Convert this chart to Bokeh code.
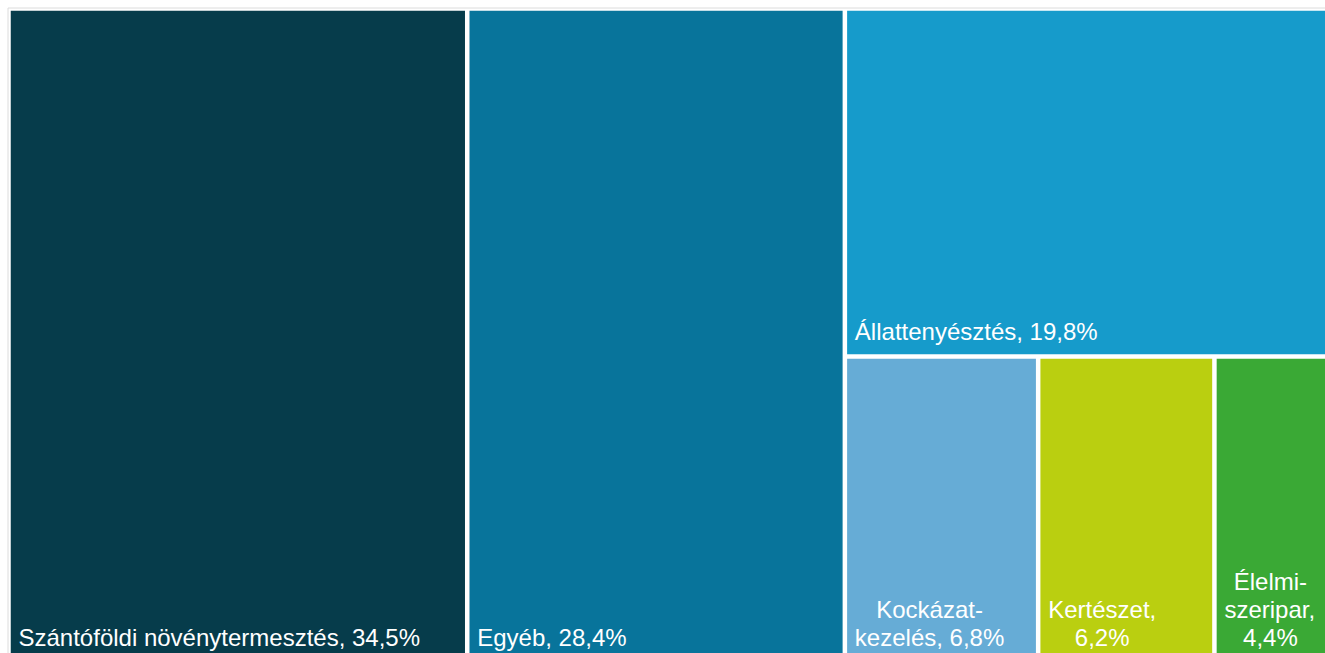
from bokeh.plotting import figure
from bokeh.models import Range1d, ColumnDataSource
from bokeh.embed import file_html
from bokeh.resources import INLINE
from bokeh.core.properties import value

# ---- data ----
categories = ["Szántóföldi növénytermesztés", "Egyéb", "Állattenyésztés",
              "Kockázatkezelés", "Kertészet", "Élelmiszeripar"]
shares = [34.5, 28.4, 19.8, 6.8, 6.2, 4.4]
label_lines = [
    ["Szántóföldi növénytermesztés, 34,5%"],
    ["Egyéb, 28,4%"],
    ["Állattenyésztés, 19,8%"],
    ["Kockázat-", "kezelés, 6,8%"],
    ["Kertészet,", "6,2%"],
    ["Élelmi-", "szeripar,", "4,4%"],
]
colors = ["#063c4b", "#08749b", "#169bcb", "#66acd6", "#bacf10", "#3aa935"]

# ---- layout (treemap area in pixels; extends past the visible frame) ----
FW, FH = 1325, 653
X0, Y0 = 8.0, 8.0
W, H = 1331.0, 654.0
INSET = 2.25
FONT_PX = 24
LINE_H = 28
PAD_X = 10
PAD_B = 25

total = sum(shares)
kx = W / total
rects = []
x = X0
for v in shares[:2]:
    w = v * kx
    rects.append((x, x + w, Y0, Y0 + H))
    x += w
rest = shares[2:]
wr = sum(rest) * kx
top_h = rest[0] / sum(rest) * H
rects.append((x, x + wr, Y0, Y0 + top_h))
row = rest[1:]
xx = x
for v in row:
    w = v / sum(row) * wr
    rects.append((xx, xx + w, Y0 + top_h, Y0 + H))
    xx += w

# approximate Arial / Liberation Sans advance widths (per 1000 em)
ADV = {'K': 667, 'E': 667, 'S': 667, 'Á': 667, 'É': 667,
       'a': 556, 'á': 556, 'b': 556, 'c': 500, 'd': 556, 'e': 556, 'é': 556,
       'f': 278, 'g': 556, 'i': 222, 'k': 500, 'l': 222, 'm': 833, 'n': 556,
       'o': 556, 'ó': 556, 'ö': 556, 'p': 556, 'r': 333, 's': 500, 't': 278,
       'v': 500, 'y': 500, 'z': 500, ',': 278, ' ': 278, '%': 889, '-': 333}


def tw(s):
    return sum(ADV.get(c, 556) for c in s) * FONT_PX / 1000.0


src = ColumnDataSource(dict(
    left=[r[0] + INSET for r in rects],
    right=[r[1] - INSET for r in rects],
    top=[r[2] + INSET for r in rects],
    bottom=[r[3] - INSET for r in rects],
    color=colors,
    cat=categories,
))

tx, ty, tt = [], [], []
for r, lines in zip(rects, label_lines):
    bw = max(tw(s) for s in lines)
    n = len(lines)
    for i, s in enumerate(lines):
        tx.append(r[0] + PAD_X + (bw - tw(s)) / 2.0)
        ty.append(r[3] - PAD_B - (n - 1 - i) * LINE_H)
        tt.append(s)

p = figure(width=FW, height=FH, output_backend="svg", toolbar_location=None,
           x_range=Range1d(0, FW), y_range=Range1d(FH, 0),
           min_border=0, outline_line_color=None,
           background_fill_color="white", border_fill_color="white")
p.axis.visible = False
p.grid.visible = False

# thin light-grey frame edges (top & left)
p.line(x=[X0 - 0.5, FW], y=[Y0 - 0.5, Y0 - 0.5], line_color="#dcdcdc", line_width=1)
p.line(x=[X0 - 0.5, X0 - 0.5], y=[Y0 - 0.5, FH], line_color="#dcdcdc", line_width=1)

p.quad(left="left", right="right", top="top", bottom="bottom", source=src,
       fill_color="color", line_color=None)

p.text(x=tx, y=ty, text=tt, text_color="white",
       text_font=value("Liberation Sans"), text_font_size=f"{FONT_PX}px",
       text_align="left", text_baseline="alphabetic")

open("out.html", "w").write(file_html(p, INLINE))
